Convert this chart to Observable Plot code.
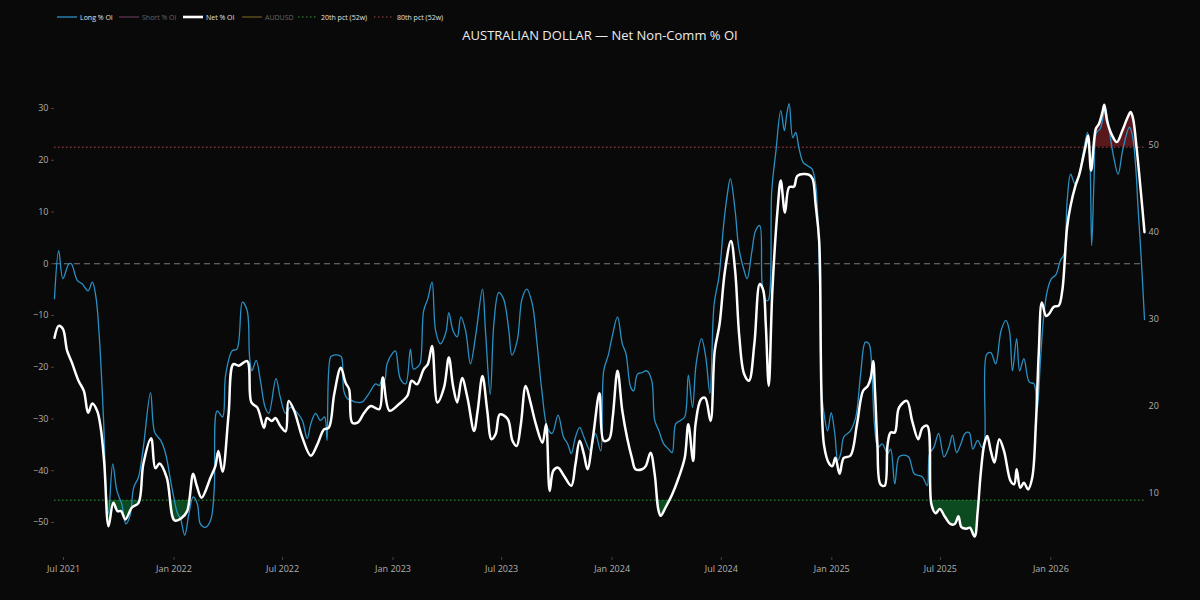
<!DOCTYPE html>
<html>
<head>
<meta charset="utf-8">
<script src="https://cdn.jsdelivr.net/npm/d3@7"></script>
<script src="https://cdn.jsdelivr.net/npm/@observablehq/plot@0.6"></script>
<style>
  html, body { margin: 0; padding: 0; background: #090909; }
  #wrap { position: relative; width: 1200px; height: 600px; background: #090909; overflow: hidden; font-family: "Open Sans", sans-serif; }
  #header { position: relative; width: 1200px; height: 60px; }
  .li { position: absolute; top: 12px; height: 10px; display: flex; align-items: center; font-size: 7px; color: #e0e0e0; white-space: nowrap; }
  .li svg { margin-right: 3px; }
  .li.off { color: #666; }
  #title { position: absolute; top: 26px; left: 0; width: 1200px; text-align: center; font-size: 13px; color: #ececec; }
</style>
</head>
<body>
<div id="wrap">
  <div id="header">
    <div class="li" style="left:57px"><svg width="20" height="6"><line x1="0" y1="3" x2="20" y2="3" stroke="#2a90c4" stroke-width="1.3"/></svg><span>Long % OI</span></div>
    <div class="li off" style="left:119px"><svg width="20" height="6"><line x1="0" y1="3" x2="20" y2="3" stroke="#5a3350" stroke-width="1.3"/></svg><span>Short % OI</span></div>
    <div class="li" style="left:183px"><svg width="20" height="6"><line x1="0" y1="3" x2="20" y2="3" stroke="#ffffff" stroke-width="2.6"/></svg><span>Net % OI</span></div>
    <div class="li off" style="left:242px"><svg width="20" height="6"><line x1="0" y1="3" x2="20" y2="3" stroke="#67561f" stroke-width="1.3"/></svg><span>AUDUSD</span></div>
    <div class="li" style="left:298px"><svg width="20" height="6"><line x1="0" y1="3" x2="20" y2="3" stroke="#3a9a3a" stroke-width="1.2" stroke-dasharray="1.5,2.5"/></svg><span>20th pct (52w)</span></div>
    <div class="li" style="left:374px"><svg width="20" height="6"><line x1="0" y1="3" x2="20" y2="3" stroke="#a5464c" stroke-width="1.2" stroke-dasharray="1.5,2.5"/></svg><span>80th pct (52w)</span></div>
    <div id="title">AUSTRALIAN DOLLAR — Net Non-Comm % OI</div>
  </div>
  <div id="chart"></div>
</div>
<script>
// ---------- DATA ----------
const netDates = [
"2021-06-16","2021-06-23","2021-06-30","2021-07-07","2021-07-15","2021-07-26","2021-08-04","2021-08-11","2021-08-18","2021-08-26",
"2021-09-01","2021-09-07","2021-09-14","2021-09-22","2021-09-29","2021-10-05","2021-10-12","2021-10-23","2021-11-03","2021-11-11",
"2021-11-24","2021-12-01","2021-12-08","2021-12-20","2022-01-02","2022-01-14","2022-01-23","2022-02-02","2022-02-08","2022-02-16",
"2022-03-03","2022-03-11","2022-03-16","2022-03-23","2022-04-02","2022-04-10","2022-04-19","2022-05-03","2022-05-10","2022-05-20",
"2022-05-31","2022-06-05","2022-06-13","2022-06-19","2022-06-27","2022-07-06","2022-07-11","2022-07-20","2022-08-03","2022-08-17",
"2022-08-28","2022-09-08","2022-09-16","2022-09-25","2022-10-06","2022-10-14","2022-10-20","2022-10-25","2022-11-03","2022-11-14",
"2022-11-25","2022-12-09","2022-12-15","2022-12-26","2023-01-11","2023-01-25","2023-02-01","2023-02-10","2023-02-21","2023-02-28",
"2023-03-07","2023-03-16","2023-03-27","2023-04-04","2023-04-11","2023-04-18","2023-04-26","2023-05-05","2023-05-16","2023-05-22",
"2023-05-30","2023-06-07","2023-06-14","2023-06-21","2023-06-28","2023-07-11","2023-07-19","2023-07-26","2023-08-02","2023-08-10",
"2023-08-18","2023-08-27","2023-09-07","2023-09-13","2023-09-19","2023-09-25","2023-10-03","2023-10-13","2023-10-25","2023-11-01",
"2023-11-08","2023-11-15","2023-11-21","2023-11-30","2023-12-11","2023-12-18","2023-12-27","2024-01-02","2024-01-10","2024-01-18",
"2024-01-26","2024-02-03","2024-02-09","2024-02-20","2024-02-26","2024-03-05","2024-03-12","2024-03-18","2024-03-22","2024-03-30",
"2024-04-10","2024-04-21","2024-05-01","2024-05-07","2024-05-15","2024-05-19","2024-05-28","2024-06-04","2024-06-13","2024-06-20",
"2024-06-28","2024-07-07","2024-07-17","2024-07-24","2024-07-31","2024-08-08","2024-08-16","2024-08-25","2024-09-03","2024-09-09",
"2024-09-13","2024-09-18","2024-09-24","2024-10-03","2024-10-08","2024-10-15","2024-10-22","2024-10-30","2024-11-05","2024-11-24",
"2024-11-30","2024-12-05","2024-12-11","2024-12-19","2024-12-28","2025-01-02","2025-01-07","2025-01-14","2025-01-21","2025-02-01",
"2025-02-12","2025-02-22","2025-03-02","2025-03-07","2025-03-11","2025-03-14","2025-03-18","2025-03-23","2025-03-30","2025-04-04",
"2025-04-09","2025-04-16","2025-04-23","2025-05-06","2025-05-15","2025-05-25","2025-06-01","2025-06-09","2025-06-16","2025-06-23",
"2025-06-30","2025-07-09","2025-07-18","2025-07-25","2025-07-31","2025-08-05","2025-08-13","2025-08-19","2025-08-27","2025-09-01",
"2025-09-06","2025-09-12","2025-09-17","2025-09-23","2025-09-29","2025-10-07","2025-10-15","2025-10-26","2025-11-01","2025-11-05",
"2025-11-11","2025-11-17","2025-11-24","2025-12-01","2025-12-07","2025-12-12","2025-12-17","2025-12-24","2025-12-29","2026-01-06",
"2026-01-14","2026-01-20","2026-01-28","2026-02-03","2026-02-11","2026-02-17","2026-02-22","2026-02-28","2026-03-04","2026-03-09",
"2026-03-17","2026-03-22","2026-03-28","2026-03-31","2026-04-05","2026-04-13","2026-04-21","2026-04-30","2026-05-09","2026-05-14",
"2026-05-18","2026-05-24","2026-05-31","2026-06-06"
];
const netValues = [
-14.3,-12.0,-12.6,-16.8,-19.1,-22.6,-24.6,-28.8,-27.0,-28.4,
-31.7,-38.7,-50.7,-46.2,-47.8,-47.8,-49.4,-47.1,-46.2,-38.7,
-33.7,-39.5,-38.6,-41.3,-49.6,-49.1,-47.8,-40.6,-42.9,-45.2,
-41.3,-39.1,-36.2,-40.2,-29.1,-19.4,-19.7,-18.8,-26.8,-27.8,
-31.7,-29.8,-30.4,-29.8,-31.3,-32.4,-26.5,-28.3,-33.6,-37.1,
-34.9,-32.0,-31.7,-25.2,-20.1,-23.0,-24.3,-30.7,-30.7,-28.8,
-27.5,-28.1,-22.0,-28.4,-27.1,-25.5,-22.6,-23.3,-20.4,-19.4,
-15.9,-26.8,-23.9,-18.1,-23.6,-26.8,-22.1,-25.9,-32.3,-28.4,
-21.7,-28.4,-33.9,-32.9,-29.1,-30.0,-34.2,-35.2,-31.0,-23.6,
-26.8,-31.0,-34.6,-31.0,-43.9,-40.0,-39.4,-41.0,-42.9,-38.7,
-34.2,-36.8,-39.7,-33.6,-25.0,-34.2,-33.9,-29.7,-20.7,-28.4,
-33.6,-37.5,-39.7,-39.7,-39.1,-36.5,-40.7,-47.5,-48.7,-47.1,
-44.6,-41.3,-37.5,-31.0,-38.1,-31.0,-26.2,-25.9,-30.4,-16.8,
-11.7,-1.4,4.4,-1.4,-14.2,-21.3,-22.6,-15.5,-3.9,-5.2,
-11.7,-23.6,-5.2,10.9,16.1,9.9,14.8,14.9,17.0,17.2,
16.4,11.5,4.4,-35.0,-38.7,-39.1,-37.5,-40.6,-37.5,-37.1,
-31.0,-24.6,-23.6,-22.0,-18.8,-24.6,-34.9,-42.6,-42.9,-34.9,
-32.6,-32.6,-27.8,-26.5,-30.4,-33.9,-31.7,-31.3,-46.5,-48.2,
-47.4,-49.0,-50.3,-50.3,-48.8,-50.9,-51.2,-51.0,-52.7,-48.0,
-40.7,-34.9,-33.3,-36.2,-38.4,-33.9,-36.2,-42.0,-42.6,-39.7,
-43.3,-42.3,-43.6,-41.3,-31.0,-16.8,-7.5,-10.1,-9.7,-8.3,
-8.1,-5.2,7.0,11.3,15.1,17.1,19.6,22.8,24.8,18.0,
26.1,27.0,29.3,30.7,27.4,24.8,23.5,25.7,28.3,29.3,
28.0,22.2,13.8,6.1
];
const longDates = [
"2021-06-16","2021-06-23","2021-06-30","2021-07-10","2021-07-14","2021-07-24","2021-08-01","2021-08-11","2021-08-18","2021-08-24",
"2021-08-29","2021-09-06","2021-09-10","2021-09-14","2021-09-21","2021-09-28","2021-10-06","2021-10-13","2021-10-20","2021-10-26",
"2021-11-03","2021-11-11","2021-11-23","2021-11-30","2021-12-10","2021-12-18","2021-12-29","2022-01-07","2022-01-12","2022-01-19",
"2022-01-26","2022-02-02","2022-02-09","2022-02-14","2022-02-22","2022-03-03","2022-03-09","2022-03-14","2022-03-23","2022-03-28",
"2022-04-08","2022-04-16","2022-04-25","2022-05-03","2022-05-07","2022-05-11","2022-05-18","2022-05-25","2022-06-02","2022-06-08",
"2022-06-20","2022-06-27","2022-07-06","2022-07-14","2022-07-25","2022-08-03","2022-08-11","2022-08-17","2022-08-25","2022-09-02",
"2022-09-09","2022-09-13","2022-09-19","2022-09-24","2022-10-02","2022-10-07","2022-10-11","2022-10-17","2022-10-24","2022-10-31",
"2022-11-10","2022-11-21","2022-12-03","2022-12-09","2022-12-14","2022-12-18","2022-12-22","2022-12-31","2023-01-05","2023-01-13",
"2023-01-22","2023-01-30","2023-02-04","2023-02-10","2023-02-15","2023-02-21","2023-02-28","2023-03-07","2023-03-13","2023-03-21",
"2023-03-30","2023-04-04","2023-04-11","2023-04-18","2023-04-24","2023-05-02","2023-05-10","2023-05-19","2023-05-30","2023-06-04",
"2023-06-12","2023-06-18","2023-06-26","2023-07-04","2023-07-13","2023-07-18","2023-07-27","2023-08-04","2023-08-12","2023-08-21",
"2023-08-29","2023-09-06","2023-09-15","2023-09-23","2023-10-03","2023-10-12","2023-10-19","2023-10-25","2023-11-01","2023-11-08",
"2023-11-15","2023-11-26","2023-12-04","2023-12-13","2023-12-18","2023-12-26","2024-01-01","2024-01-10","2024-01-18","2024-01-24",
"2024-02-01","2024-02-06","2024-02-12","2024-02-20","2024-02-28","2024-03-07","2024-03-12","2024-03-19","2024-03-27","2024-04-04",
"2024-04-10","2024-04-16","2024-04-24","2024-05-01","2024-05-07","2024-05-14","2024-05-20","2024-05-29","2024-06-05","2024-06-12",
"2024-06-19","2024-06-27","2024-07-05","2024-07-11","2024-07-16","2024-07-24","2024-07-30","2024-08-08","2024-08-13","2024-08-21",
"2024-08-27","2024-09-03","2024-09-07","2024-09-13","2024-09-17","2024-09-23","2024-09-30","2024-10-08","2024-10-14","2024-10-18",
"2024-10-22","2024-10-28","2024-11-02","2024-11-07","2024-11-14","2024-11-21","2024-11-29","2024-12-05","2024-12-09","2024-12-12",
"2024-12-15","2024-12-19","2024-12-25","2024-12-31","2025-01-06","2025-01-11","2025-01-16","2025-01-21","2025-02-01","2025-02-10",
"2025-02-18","2025-02-26","2025-03-04","2025-03-09","2025-03-13","2025-03-19","2025-03-26","2025-04-04","2025-04-09","2025-04-16",
"2025-04-23","2025-05-01","2025-05-09","2025-05-18","2025-05-24","2025-06-01","2025-06-09","2025-06-13","2025-06-20","2025-06-28",
"2025-07-07","2025-07-15","2025-07-21","2025-07-28","2025-08-04","2025-08-11","2025-08-18","2025-08-24","2025-09-01","2025-09-08",
"2025-09-12","2025-09-16","2025-09-23","2025-10-01","2025-10-10","2025-10-18","2025-10-24","2025-10-29","2025-11-05","2025-11-10",
"2025-11-17","2025-11-26","2025-12-04","2025-12-09","2025-12-15","2025-12-20","2025-12-26","2026-01-02","2026-01-09","2026-01-17",
"2026-01-23","2026-01-28","2026-02-03","2026-02-10","2026-02-17","2026-02-25","2026-03-03","2026-03-07","2026-03-10","2026-03-14",
"2026-03-18","2026-03-24","2026-03-30","2026-04-02","2026-04-08","2026-04-15","2026-04-23","2026-05-01","2026-05-12","2026-05-17",
"2026-05-23","2026-05-26","2026-05-31","2026-06-06"
];
const longValues = [
32.4,37.9,34.7,36.4,36.4,34.5,34.1,33.3,34.3,32.6,
28.7,18.0,10.3,7.7,13.4,10.3,8.8,6.5,7.5,10.7,
11.9,15.3,21.6,17.0,16.1,14.6,10.5,7.7,7.1,5.2,
7.7,9.6,8.8,6.5,6.1,6.9,10.3,19.5,18.8,23.6,
26.4,26.6,32.0,31.0,25.7,24.1,25.3,23.0,19.9,19.2,
23.2,21.1,19.2,19.9,19.3,18.4,16.3,18.0,19.2,18.4,
18.8,16.1,25.7,25.9,25.9,25.7,21.8,20.9,20.7,20.5,
20.5,21.4,22.6,22.4,23.2,23.0,24.9,26.1,26.4,23.2,
22.6,26.6,24.3,24.5,24.9,31.0,32.4,34.3,28.7,27.2,
28.5,30.8,28.7,28.0,30.3,28.7,24.9,28.3,33.5,28.7,
21.4,29.5,33.1,32.4,28.7,25.9,27.6,32.4,33.5,31.8,
27.2,21.8,17.6,16.9,19.0,16.5,15.7,14.6,16.5,17.6,
16.5,14.9,16.9,14.9,24.1,26.0,28.0,30.3,27.2,26.1,
22.2,21.8,23.7,23.9,24.1,23.0,18.4,17.2,15.7,15.1,
14.7,18.0,18.4,18.8,23.6,19.9,24.9,27.8,25.7,21.5,
31.8,34.9,41.0,44.4,46.2,42.5,38.3,35.6,34.7,37.9,
40.2,40.8,34.1,32.2,32.2,44.8,49.4,54.0,51.7,53.6,
54.8,50.9,51.5,49.8,48.1,47.7,47.3,45.6,41.0,33.3,
21.8,19.2,17.2,19.3,16.9,13.8,14.6,16.5,17.2,18.8,
23.7,27.4,27.2,23.7,18.0,15.3,15.7,14.6,15.1,11.1,
14.2,14.4,14.2,12.3,12.1,11.9,10.9,14.6,15.3,16.9,
14.2,15.3,16.7,14.7,15.7,16.9,17.0,15.1,16.1,15.3,
15.7,26.0,26.2,24.9,28.7,29.9,28.7,24.1,27.8,24.1,
25.5,22.8,22.6,19.5,25.7,30.3,33.3,34.7,35.1,36.8,
37.5,43.5,46.7,45.6,46.7,49.6,51.5,48.5,38.5,46.2,
51.5,51.9,53.6,54.2,51.9,48.9,46.7,49.6,52.1,51.1,
46.9,43.1,37.7,30.0
];
const pct20 = -45.7;   // 20th pct (52w), net % OI
const pct80 = 22.5;    // 80th pct (52w), net % OI
const leftTicks = [-50, -40, -30, -20, -10, 0, 10, 20, 30];
const rightTicks = [10, 20, 30, 40, 50];
const xTicks = ["2021-07-01","2022-01-01","2022-07-01","2023-01-01","2023-07-01","2024-01-01","2024-07-01","2025-01-01","2025-07-01","2026-01-01"];

// ---------- CHART ----------
const parse = d3.utcParse("%Y-%m-%d");
const net = netDates.map((d, i) => ({date: parse(d), value: netValues[i]}));
const long = longDates.map((d, i) => ({date: parse(d), value: longValues[i]}));

const W = 1200, H = 540, MT = 22, MB = 43, ML = 54, MR = 56;
const yDom = [-56.76, 35.02];      // left axis (Net % OI)
const rDom = [2.644, 57.24];       // right axis (Long % OI) over the same pixel range
const toLeft = v => yDom[0] + (v - rDom[0]) * (yDom[1] - yDom[0]) / (rDom[1] - rDom[0]);
const fromLeft = u => rDom[0] + (u - yDom[0]) * (rDom[1] - rDom[0]) / (yDom[1] - yDom[0]);

const plot = Plot.plot({
  width: W,
  height: H,
  marginLeft: ML,
  marginRight: MR,
  marginTop: MT,
  marginBottom: MB,
  style: {background: "#090909", color: "#aaaaaa", fontFamily: "'Open Sans', sans-serif", fontSize: "9px", overflow: "visible"},
  x: {type: "utc", domain: [parse("2021-06-16"), parse("2026-06-06")]},
  y: {domain: yDom},
  marks: [
    Plot.areaY(net, {x: "date", y1: d => pct20, y2: "value", curve: "catmull-rom", fill: "#0c4a1f"}),
    Plot.areaY(net, {x: "date", y1: d => pct80, y2: "value", curve: "catmull-rom", fill: "#5a181d"}),
    Plot.ruleY([0], {stroke: "#7a7a7a", strokeWidth: 1.2, strokeDasharray: "6,4"}),
    Plot.ruleY([pct20], {stroke: "#2f8f3f", strokeWidth: 1.1, strokeDasharray: "1.5,2.5"}),
    Plot.ruleY([pct80], {stroke: "#a0464c", strokeWidth: 1.1, strokeDasharray: "1.5,2.5"}),
    Plot.lineY(long, {x: "date", y: d => toLeft(d.value), stroke: "#2a90c4", strokeWidth: 1.3, curve: "catmull-rom"}),
    Plot.lineY(net, {x: "date", y: "value", stroke: "#ffffff", strokeWidth: 2.5, curve: "catmull-rom"}),
    Plot.axisX({ticks: xTicks.map(parse), tickFormat: d3.utcFormat("%b %Y"), tickSize: 3, tickPadding: 5.5, stroke: "#444", fill: "#b0b0b0", label: null}),
    Plot.axisY({anchor: "left", ticks: leftTicks, tickSize: 3, tickPadding: 3, stroke: "#444", fill: "#b0b0b0", label: null}),
    Plot.axisY({anchor: "right", ticks: rightTicks.map(toLeft), tickFormat: d => String(Math.round(fromLeft(d))), tickSize: 0, tickPadding: 4, fill: "#b0b0b0", label: null})
  ]
});

// clip the percentile fills to the region beyond each threshold
const yPix = v => MT + (yDom[1] - v) / (yDom[1] - yDom[0]) * (H - MT - MB);
const yLow = yPix(pct20), yHigh = yPix(pct80);
const NS = "http://www.w3.org/2000/svg";
const defs = document.createElementNS(NS, "defs");
function addClip(id, y, h) {
  const cp = document.createElementNS(NS, "clipPath");
  cp.setAttribute("id", id);
  cp.setAttribute("clipPathUnits", "userSpaceOnUse");
  const r = document.createElementNS(NS, "rect");
  r.setAttribute("x", "-10"); r.setAttribute("y", String(y));
  r.setAttribute("width", String(W + 20)); r.setAttribute("height", String(h));
  cp.appendChild(r); defs.appendChild(cp);
}
addClip("clipLow", yLow, H - yLow);
addClip("clipHigh", -10, yHigh + 10);
plot.insertBefore(defs, plot.firstChild);
const areas = plot.querySelectorAll('g[aria-label="area"]');
if (areas[0]) areas[0].setAttribute("clip-path", "url(#clipLow)");
if (areas[1]) areas[1].setAttribute("clip-path", "url(#clipHigh)");

document.getElementById("chart").appendChild(plot);
</script>
</body>
</html>
